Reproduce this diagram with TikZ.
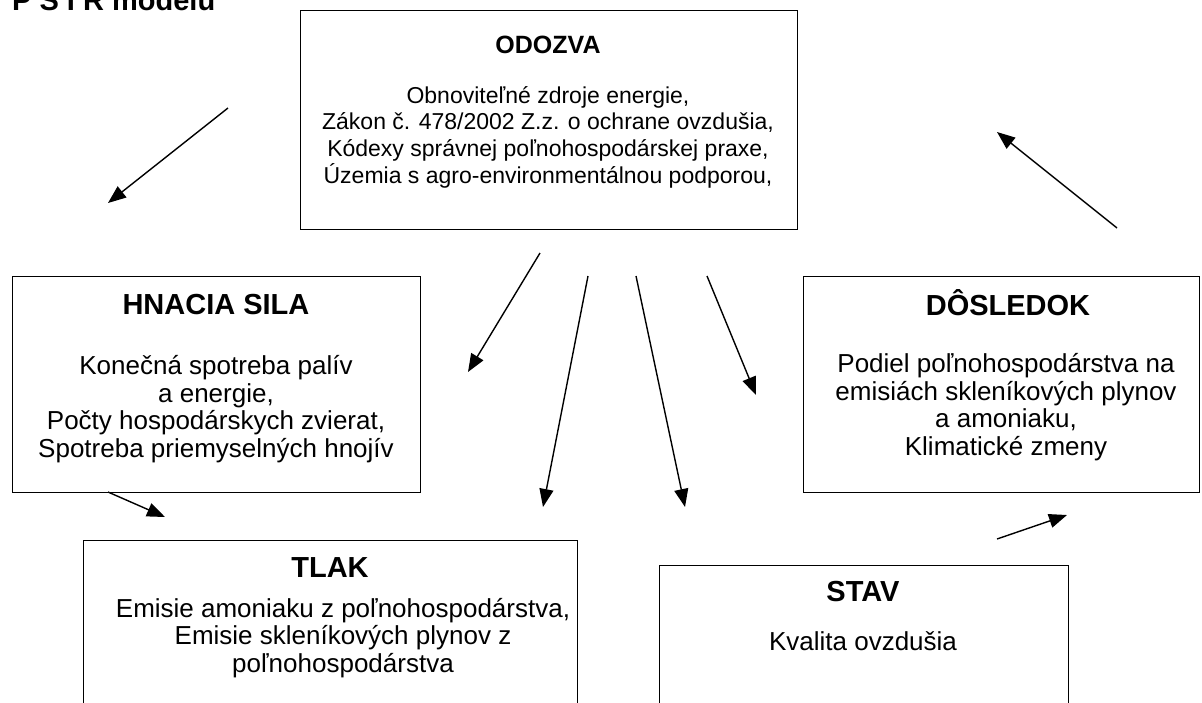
\documentclass[tikz,border=0pt]{standalone}
\usepackage{fontspec}
\setmainfont{Liberation Sans}
\usetikzlibrary{arrows.meta}
\begin{document}
\begin{tikzpicture}[x=1pt,y=-1pt,
  box/.style={draw,line width=1.4pt,rectangle,inner sep=0pt,anchor=north west},
  ttl/.style={font=\fontsize{29}{33}\selectfont\bfseries,inner sep=0pt},
  body/.style={font=\fontsize{26}{27.5}\selectfont,align=center,inner sep=0pt},
  ttlsmall/.style={font=\fontsize{25}{29}\selectfont\bfseries,inner sep=0pt},
  bodysmall/.style={font=\fontsize{23}{26.7}\selectfont,align=center,inner sep=0pt},
  arr/.style={line width=1.4pt,-{Triangle[length=18pt,width=14pt]}}]
\useasboundingbox (0,0) rectangle (1202,702);
\clip (0,0) rectangle (1202,702);
% header (cut at top)
\node[ttl,anchor=base west] (hdr) at (12,10) {P S I R modelu};
% boxes
\node[box,minimum width=497pt,minimum height=219pt] (odozva) at (300,10) {};
\node[box,minimum width=408pt,minimum height=216pt] (hnacia) at (12,276) {};
\node[box,minimum width=396pt,minimum height=216pt] (dosledok) at (803,276) {};
\node[box,minimum width=494pt,minimum height=200pt] (tlak) at (83,540) {};
\node[box,minimum width=409pt,minimum height=200pt] (stav) at (659,565) {};
% texts
\node[ttlsmall] (odozvaT) at (548,45) {ODOZVA};
\node[bodysmall] (odozvaB) at (548,137) {Obnoviteľné zdroje energie,\\Zákon č. 478/2002 Z.z. o ochrane ovzdušia,\\Kódexy správnej poľnohospodárskej praxe,\\Územia s agro-environmentálnou podporou,};
\node[ttl] (hnaciaT) at (216,305) {HNACIA SILA};
\node[body] (hnaciaB) at (216,409) {Konečná spotreba palív\\a energie,\\Počty hospodárskych zvierat,\\Spotreba priemyselných hnojív};
\node[ttl] (dosledokT) at (1008,303) {DÔSLEDOK};
\node[body] (dosledokB) at (1006,407) {Podiel poľnohospodárstva na\\emisiách skleníkových plynov\\a amoniaku,\\Klimatické zmeny};
\node[ttl] (tlakT) at (330,568) {TLAK};
\node[body] (tlakB) at (343,638) {Emisie amoniaku z poľnohospodárstva,\\Emisie skleníkových plynov z\\poľnohospodárstva};
\node[ttl] (stavT) at (863,592) {STAV};
\node[body] (stavB) at (863,641) {Kvalita ovzdušia};
% arrow end points
\coordinate (a1s) at (228,108); \coordinate (a1e) at (108,203);
\coordinate (a2s) at (1117,228); \coordinate (a2e) at (997,132);
\coordinate (a3s) at (540,253); \coordinate (a3e) at (468,372);
\coordinate (a4s) at (588,276); \coordinate (a4e) at (543,507);
\coordinate (a5s) at (636,276); \coordinate (a5e) at (685,507);
\coordinate (a6s) at (707,276); \coordinate (a6e) at (756,395);
\coordinate (a7s) at (108,492); \coordinate (a7e) at (165,517);
\coordinate (a8s) at (997,539); \coordinate (a8e) at (1067,515);
\draw[arr] (a1s) -- (a1e);
\draw[arr] (a2s) -- (a2e);
\draw[arr] (a3s) -- (a3e);
\draw[arr] (a4s) -- (a4e);
\draw[arr] (a5s) -- (a5e);
\draw[arr] (a6s) -- (a6e);
\draw[arr] (a7s) -- (a7e);
\draw[arr] (a8s) -- (a8e);
\end{tikzpicture}
\end{document}
